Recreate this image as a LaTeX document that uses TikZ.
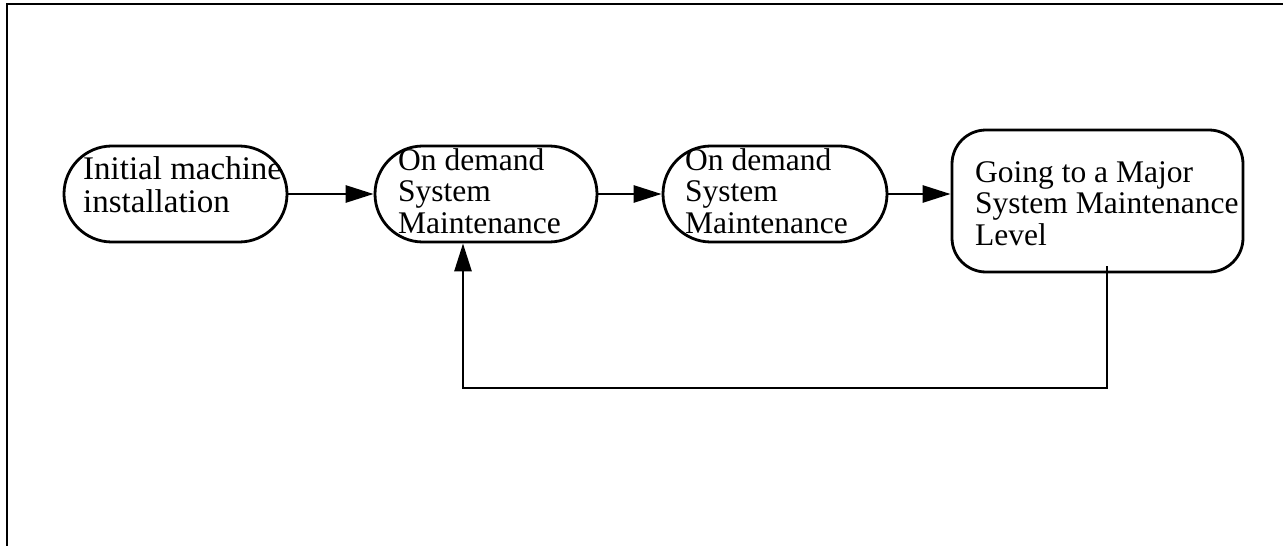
\documentclass[tikz,border=0pt]{standalone}
\usepackage{fontspec}
\setmainfont{Liberation Serif}
\usetikzlibrary{arrows.meta}
\begin{document}
\begin{tikzpicture}[x=1pt,y=-1pt,
  flow/.style={draw, line width=2.8pt, inner sep=0pt, minimum height=96pt},
  pill/.style={flow, rounded corners=47.9pt},
  card/.style={flow, rounded corners=34pt, minimum height=142pt},
  lbl/.style={inner sep=0pt, align=left, anchor=base west,
    font=\fontsize{31.5}{31.5}\selectfont},
  link/.style={line width=2.8pt, -{Triangle[length=28pt,width=17pt]}}]
  \useasboundingbox (0,0) rectangle (1283,546);
  % frame edges
  \draw[line width=2pt] (6.5,546) -- (6.5,4) -- (1283,4);

  % process steps
  \node[pill, minimum width=223pt] (b1) at (175.5,194) {};
  \node[pill, minimum width=222pt] (b2) at (486,194) {};
  \node[pill, minimum width=224pt] (b3) at (775,194) {};
  \node[card, minimum width=291pt] (b4) at (1097.5,201) {};

  % labels, anchored at the baseline of their last line
  \node[lbl, font=\fontsize{33}{33.4}\selectfont] (t1) at (83,212.7) {Initial machine\\installation};
  \node[lbl] (t2) at (398,233) {On demand\\System\\Maintenance};
  \node[lbl] (t3) at (685,233) {On demand\\System\\Maintenance};
  \node[lbl] (t4) at (975,245) {Going to a Major\\System Maintenance\\Level};

  % forward flow
  \draw[link] (b1.east) -- (b2.west);
  \draw[link] (b2.east) -- (b3.west);
  \draw[link] (b3.east) -- (b3.east -| b4.west);

  % return path to the first maintenance step
  \coordinate (r0) at (1107,266);
  \draw[link] (r0) -- (1107,388) -| (b2.south -| 463,0);
\end{tikzpicture}
\end{document}
